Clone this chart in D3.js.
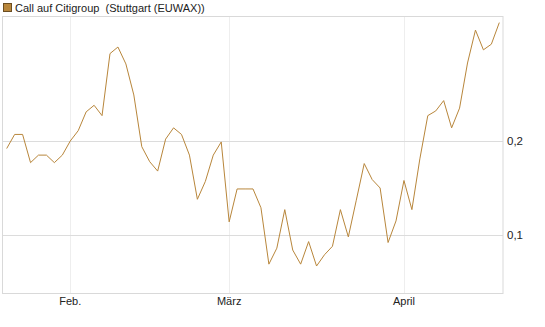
<!DOCTYPE html>
<html>
<head>
<meta charset="utf-8">
<script src="https://cdn.jsdelivr.net/npm/d3@7"></script>
<style>
  body { margin: 0; background: #fff; }
  text { font-family: "Liberation Sans", Arial, sans-serif; white-space: pre; }
</style>
</head>
<body>
<div id="chart"></div>
<script>
// daily closing values (trading days)
const values = [
  0.192, 0.207, 0.207, 0.177, 0.185, 0.185, 0.177, 0.185, 0.200, 0.211,
  0.231, 0.238, 0.227, 0.293, 0.300, 0.282, 0.249, 0.194, 0.178, 0.168,
  0.202, 0.214, 0.207, 0.185, 0.138, 0.157, 0.185, 0.199, 0.114, 0.149,
  0.149, 0.149, 0.129, 0.069, 0.086, 0.127, 0.084, 0.069, 0.093, 0.067,
  0.079, 0.088, 0.127, 0.098, 0.137, 0.176, 0.159, 0.150, 0.092, 0.115,
  0.158, 0.127, 0.181, 0.227, 0.232, 0.243, 0.214, 0.235, 0.283, 0.318,
  0.297, 0.303, 0.326
];
// month starts: index of trading day and label
const monthIdx = [8, 28, 50];
const monthLabels = ["Feb.", "März", "April"];
const yTicks = [0.1, 0.2];
const legendLabel = "Call auf Citigroup  (Stuttgart (EUWAX))";

const W = 545, H = 327;
const plot = { left: 2.5, right: 503, top: 16, bottom: 293 };
const lineColor = "#b8863b";

const svg = d3.select("#chart").append("svg")
  .attr("width", W).attr("height", H);

const x = d3.scaleLinear().domain([0, values.length - 1]).range([6.7, 499.3]);
const y = d3.scaleLinear().domain([0.0383, 0.333]).range([plot.bottom, plot.top]);

const de = d3.formatLocale({ decimal: ",", thousands: ".", grouping: [3], currency: ["", "€"] });
const fmt = de.format(".1f");

// vertical month gridlines
svg.append("g").selectAll("line")
  .data(monthIdx).join("line")
  .attr("x1", d => Math.round(x(d)) + 0.5).attr("x2", d => Math.round(x(d)) + 0.5)
  .attr("y1", plot.top).attr("y2", plot.bottom)
  .attr("stroke", "#eeeeee");

// horizontal gridlines
svg.append("g").selectAll("line")
  .data(yTicks).join("line")
  .attr("x1", plot.left).attr("x2", plot.right)
  .attr("y1", d => Math.round(y(d)) + 0.5).attr("y2", d => Math.round(y(d)) + 0.5)
  .attr("stroke", "#dcdcdc");

// frame
svg.append("rect")
  .attr("x", plot.left).attr("y", plot.top + 0.5)
  .attr("width", plot.right - plot.left).attr("height", plot.bottom - plot.top)
  .attr("fill", "none").attr("stroke", "#d9d9d9");

// y labels on the right
svg.append("g").selectAll("text")
  .data(yTicks).join("text")
  .attr("x", plot.right + 4)
  .attr("y", d => y(d) + 4)
  .attr("font-size", "11.5px")
  .attr("fill", "#222")
  .text(d => fmt(d));

// x labels
svg.append("g").selectAll("text")
  .data(monthIdx).join("text")
  .attr("x", d => x(d))
  .attr("y", 305)
  .attr("text-anchor", "middle")
  .attr("font-size", "11px")
  .attr("fill", "#222")
  .text((d, i) => monthLabels[i]);

// the line
const line = d3.line()
  .x((d, i) => x(i))
  .y(d => y(d));

svg.append("path")
  .datum(values)
  .attr("d", line)
  .attr("fill", "none")
  .attr("stroke", lineColor)
  .attr("stroke-width", 1);

// legend
svg.append("rect")
  .attr("x", 3.5).attr("y", 3.5).attr("width", 8).attr("height", 8)
  .attr("fill", "#b8863b").attr("stroke", "#6b4e22");
svg.append("text")
  .attr("x", 15).attr("y", 12)
  .attr("font-size", "11px")
  .attr("fill", "#222")
  .text(legendLabel);
</script>
</body>
</html>
